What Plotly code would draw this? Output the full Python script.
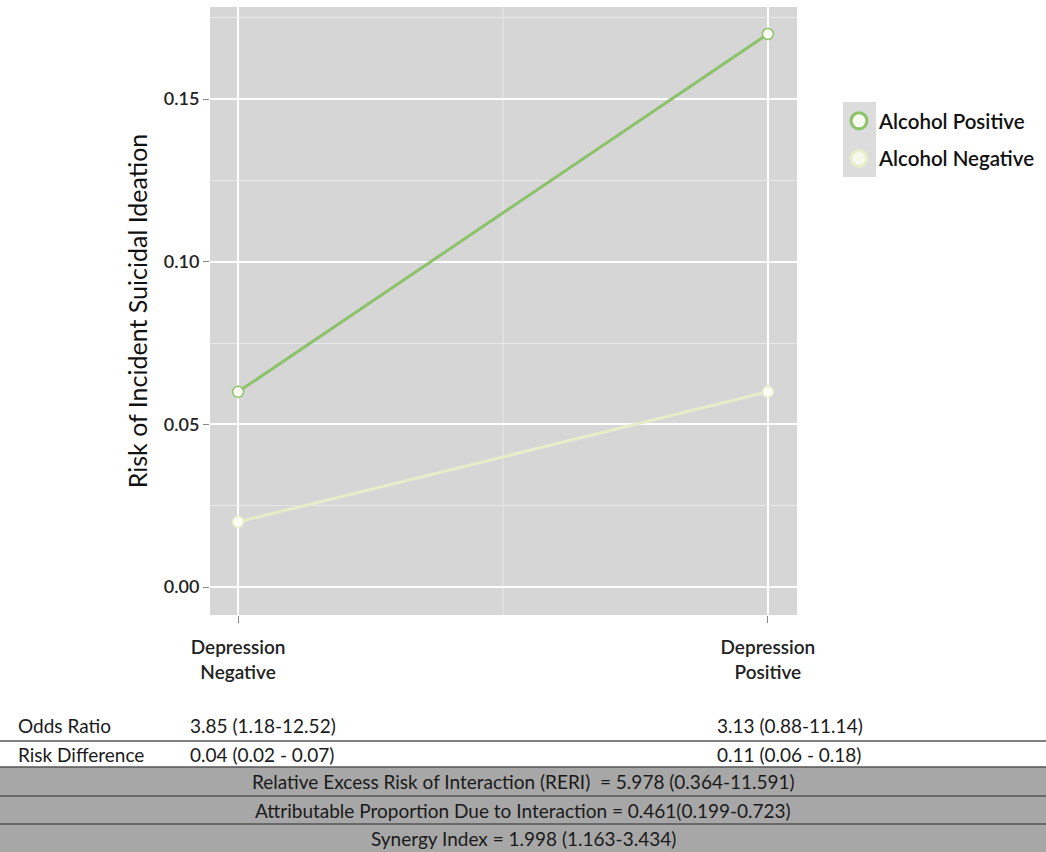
import plotly.graph_objects as go

# Exposure categories on the x axis
depression = ["Depression<br>Negative", "Depression<br>Positive"]

# Risk of incident suicidal ideation by alcohol status
alcohol_positive = [0.06, 0.17]
alcohol_negative = [0.02, 0.06]

y_ticks = [0.00, 0.05, 0.10, 0.15]

# Summary table under the chart
or_label = "Odds Ratio"
or_values = ["3.85 (1.18-12.52)", "3.13 (0.88-11.14)"]
rd_label = "Risk Difference"
rd_values = ["0.04 (0.02 - 0.07)", "0.11 (0.06 - 0.18)"]
interaction_rows = [
    "Relative Excess Risk of Interaction (RERI)  = 5.978 (0.364-11.591)",
    "Attributable Proportion Due to Interaction = 0.461(0.199-0.723)",
    "Synergy Index = 1.998 (1.163-3.434)",
]

GREEN = "#8cc26a"
PALE = "#e8edc9"
W, H = 1046, 852
L, R, T, B = 210, 249, 7, 237

fig = go.Figure()

fig.add_trace(go.Scatter(
    x=depression, y=alcohol_negative, mode="lines+markers",
    line=dict(color=PALE, width=3),
    marker=dict(size=11, color="#fbfdf4", line=dict(color=PALE, width=1.5)),
    showlegend=False, hoverinfo="skip"))
fig.add_trace(go.Scatter(
    x=depression, y=alcohol_positive, mode="lines+markers",
    line=dict(color=GREEN, width=3),
    marker=dict(size=11, color="#fbfdf4", line=dict(color=GREEN, width=1.5)),
    showlegend=False, hoverinfo="skip"))

# legend keys (markers only)
fig.add_trace(go.Scatter(
    x=[None], y=[None], mode="markers", name="Alcohol Positive", legendgroup="pos",
    marker=dict(size=21, color="#f8fbf0", line=dict(color=GREEN, width=3))))
fig.add_trace(go.Scatter(
    x=[None], y=[None], mode="markers", name="Alcohol Negative", legendgroup="neg",
    marker=dict(size=21, color="#f6f8ec", line=dict(color=PALE, width=3))))

pw = W - L - R
ph = H - T - B


def px_x(p):
    return (p - L) / pw


def px_y(p):
    return (H - B - p) / ph


shapes = []
# gray legend key panel
shapes.append(dict(type="rect", xref="paper", yref="paper",
                   x0=px_x(843), x1=px_x(876), y0=px_y(177), y1=px_y(102),
                   fillcolor="#dcdcdc", line=dict(width=0), layer="below"))
# minor vertical gridline between categories
shapes.append(dict(type="line", xref="x", yref="paper", x0=0.5, x1=0.5, y0=0, y1=1,
                   line=dict(color="#e9e9e9", width=1), layer="below"))

# table rows
GRAY = "#a7a7a7"
LINE = "#555555"
row_edges = [767, 796, 824, 852]
for i in range(3):
    shapes.append(dict(type="rect", xref="paper", yref="paper",
                       x0=px_x(0), x1=px_x(W), y0=px_y(row_edges[i + 1]), y1=px_y(row_edges[i]),
                       fillcolor=GRAY, line=dict(width=0)))
for yy in [741, 767, 796, 824]:
    shapes.append(dict(type="line", xref="paper", yref="paper",
                       x0=px_x(0), x1=px_x(W), y0=px_y(yy), y1=px_y(yy),
                       line=dict(color=LINE, width=1.5)))

ann = []
TFONT = dict(family="Lato, Noto Sans, sans-serif", size=19, color="#1a1a1a")


def text_at(x, y, s, anchor="left"):
    ann.append(dict(xref="paper", yref="paper", x=px_x(x), y=px_y(y), text=s,
                    showarrow=False, xanchor=anchor, yanchor="middle", font=TFONT))


text_at(16, 725, or_label)
text_at(188, 725, or_values[0])
text_at(715, 725, or_values[1])
text_at(16, 754, rd_label)
text_at(188, 754, rd_values[0])
text_at(715, 754, rd_values[1])
for i, s in enumerate(interaction_rows):
    text_at(523, (row_edges[i] + row_edges[i + 1]) / 2, s, anchor="center")

fig.update_layout(
    width=W, height=H,
    margin=dict(l=L, r=R, t=T, b=B, autoexpand=False),
    paper_bgcolor="white", plot_bgcolor="#d6d6d6",
    font=dict(family="Lato, Noto Sans, sans-serif", color="#222222"),
    shapes=shapes, annotations=ann,
    legend=dict(x=px_x(839), y=px_y(101), xanchor="left", yanchor="top",
                font=dict(size=20.5, color="#111111", weight=600), bgcolor="rgba(0,0,0,0)",
                tracegroupgap=8, itemsizing="trace"),
    xaxis=dict(
        type="category", range=[-0.053, 1.055],
        showgrid=True, gridcolor="white", gridwidth=1.5,
        zeroline=False, showline=False,
        ticks="outside", ticklen=7, tickcolor="#888888", tickwidth=1,
        ticklabelstandoff=8,
        tickfont=dict(size=19, color="#222222", weight=600),
        automargin=False,
    ),
    yaxis=dict(
        range=[-0.0086, 0.1783],
        tickvals=y_ticks, tickformat=".2f",
        showgrid=True, gridcolor="white", gridwidth=1.5,
        minor=dict(dtick=0.025, tick0=0, showgrid=True, gridcolor="#e9e9e9", gridwidth=1),
        zeroline=False, showline=False,
        ticks="outside", ticklen=6, tickcolor="#888888", tickwidth=1,
        tickfont=dict(size=18, color="#222222", weight=600),
        title=dict(text="Risk of Incident Suicidal Ideation", font=dict(size=25, color="#111111"),
                   standoff=9),
        automargin=False,
    ),
)

fig.write_html("out.html")
